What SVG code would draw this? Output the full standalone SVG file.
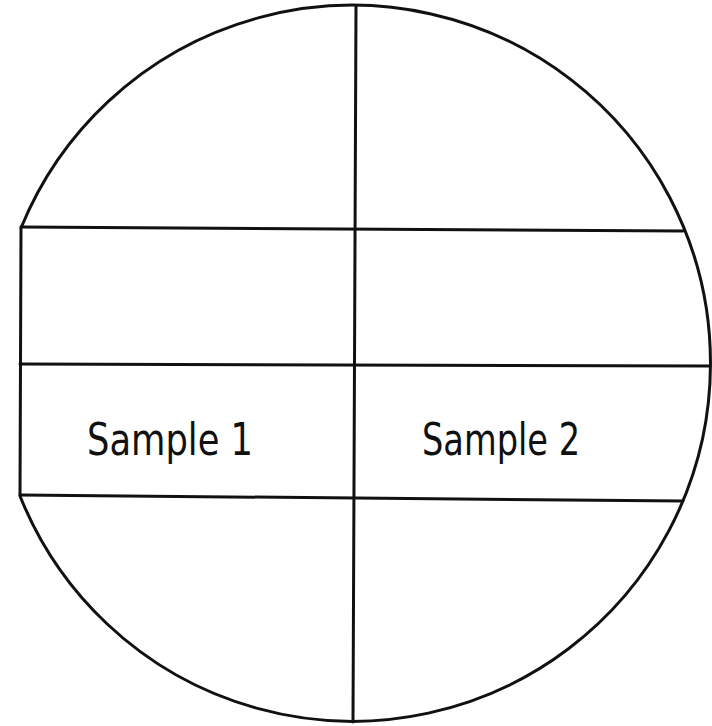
<svg xmlns="http://www.w3.org/2000/svg" width="712" height="726" viewBox="0 0 712 726">
<style>
.ln{fill:none;stroke:#111;stroke-width:3;stroke-linecap:round;stroke-linejoin:round}
.lbl{font-family:"DejaVu Sans Condensed","DejaVu Sans",sans-serif;font-size:45px;fill:#111}
</style>
<rect width="712" height="726" fill="#fff"/>
<g id="outline">
<path class="ln" d="M 21 228 A 358 358 0 1 1 20 496 Z"/>
</g>
<g id="grid">
<line class="ln" x1="21" y1="227" x2="683" y2="231"/>
<line class="ln" x1="20" y1="364" x2="710" y2="366"/>
<line class="ln" x1="20" y1="495" x2="683" y2="501"/>
<line class="ln" x1="356" y1="6" x2="353" y2="722"/>
</g>
<g id="sample1">
<text class="lbl" x="87" y="455" textLength="166" lengthAdjust="spacingAndGlyphs">Sample 1</text>
</g>
<g id="sample2">
<text class="lbl" x="422" y="455" textLength="158" lengthAdjust="spacingAndGlyphs">Sample 2</text>
</g>
</svg>
